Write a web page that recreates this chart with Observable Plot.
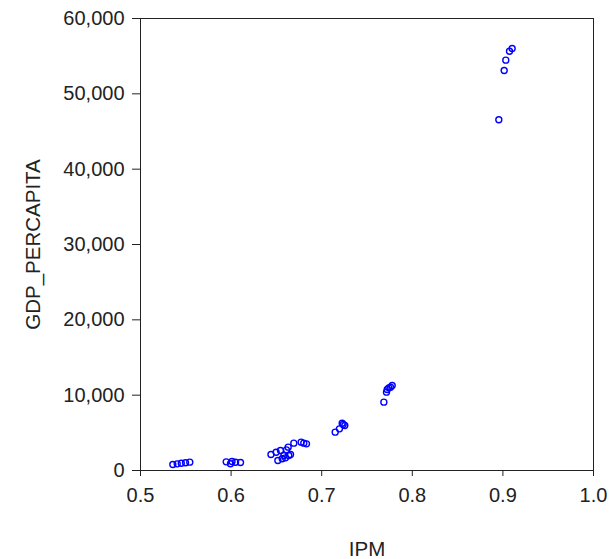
<!DOCTYPE html>
<html>
<head>
<meta charset="utf-8">
<script src="https://cdn.jsdelivr.net/npm/d3@7"></script>
<script src="https://cdn.jsdelivr.net/npm/@observablehq/plot@0.6"></script>
<style>
  html, body { margin: 0; padding: 0; background: #fff; }
  svg { display: block; }
</style>
</head>
<body>
<div id="chart"></div>
<script>
const ipm = [
  0.5357, 0.5405, 0.545, 0.5497, 0.5544,
  0.5946, 0.5993, 0.601, 0.6049, 0.6104,
  0.644, 0.6516, 0.6497, 0.6545, 0.6564, 0.6582, 0.66, 0.6611, 0.663, 0.6637, 0.6656, 0.6692, 0.6773, 0.6802, 0.6832,
  0.7149, 0.7196, 0.7226, 0.7237, 0.7255,
  0.7686, 0.7715, 0.7723, 0.7741, 0.776, 0.7778,
  0.8955, 0.9014, 0.9032, 0.9073, 0.9102
];
const gdpPerCapita = [
  800, 880, 960, 1030, 1110,
  1150, 890, 1190, 1100, 1060,
  2120, 1330, 2430, 2650, 1550, 1990, 1680, 2740, 3100, 1990, 2120, 3630, 3760, 3630, 3540,
  5090, 5530, 6280, 6100, 5970,
  9070, 10400, 10750, 10970, 11060, 11280,
  46550, 53100, 54470, 55660, 56020
];
const xTicks = [0.5, 0.6, 0.7, 0.8, 0.9, 1.0];
const yTicks = [0, 10000, 20000, 30000, 40000, 50000, 60000];
const xLabel = "IPM";
const yLabel = "GDP_PERCAPITA";

const data = ipm.map((x, i) => ({x, y: gdpPerCapita[i]}));

const chart = Plot.plot({
  width: 611,
  height: 559,
  marginLeft: 140,
  marginRight: 18,
  marginTop: 18,
  marginBottom: 89,
  style: {fontFamily: "'Liberation Sans', Arial, sans-serif", fontSize: "20px", color: "#222", background: "#fff"},
  x: {domain: [0.5, 1.0]},
  y: {domain: [0, 60000]},
  marks: [
    Plot.frame({stroke: "#222", strokeWidth: 1}),
    Plot.axisX({ticks: xTicks, tickFormat: d3.format(".1f"), tickSize: 6, tickPadding: 11, fontSize: 20,
      label: null}),
    Plot.axisX({ticks: [], label: xLabel, labelAnchor: "center", labelArrow: "none", labelOffset: 85, fontSize: 20.5}),
    Plot.axisY({ticks: yTicks, tickFormat: d3.format(","), tickSize: 8, tickPadding: 8, fontSize: 20,
      label: null}),
    Plot.axisY({ticks: [], label: yLabel, labelAnchor: "center", labelArrow: "none", labelOffset: 115, fontSize: 20.5}),
    Plot.dot(data, {x: "x", y: "y", r: 3, stroke: "#0000ff", strokeWidth: 1.4, fill: "none"})
  ]
});
document.getElementById("chart").appendChild(chart);
</script>
</body>
</html>
